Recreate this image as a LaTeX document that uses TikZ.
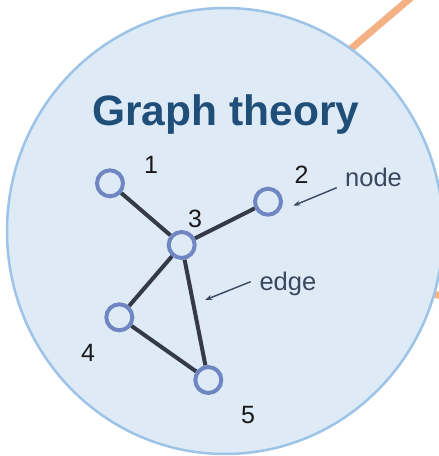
\documentclass[tikz,border=0pt]{standalone}
\usepackage{fontspec}
\setmainfont{Liberation Sans}
\usetikzlibrary{arrows.meta}
\definecolor{disk}{HTML}{DEEBF7}
\definecolor{rim}{HTML}{9DC3E6}
\definecolor{titleblue}{HTML}{1F4E79}
\definecolor{ring}{HTML}{6F86C2}
\definecolor{linkgray}{HTML}{343A46}
\definecolor{notegray}{HTML}{3A475C}
\definecolor{wire}{HTML}{F4B183}
\tikzset{
  vertex/.style={circle,draw=ring,line width=4pt,fill=disk,minimum size=26pt,inner sep=0pt},
  tie/.style={draw=linkgray,line width=4pt},
  numlabel/.style={inner sep=0pt,font=\fontsize{25}{30}\selectfont,text=black!90},
  note/.style={inner sep=0pt,anchor=base west,font=\fontsize{25.5}{30}\selectfont,text=notegray},
  pointer/.style={-{Stealth[length=7pt,width=5pt]},draw=notegray,line width=1.4pt},
  wireline/.style={draw=wire,line width=7pt}
}
\begin{document}
\begin{tikzpicture}[x=1pt,y=-1pt]
\useasboundingbox (0,0) rectangle (439,456);
% connectors that leave the picture
\coordinate (w1a) at (420,-10);
\coordinate (w1b) at (300,92);
\coordinate (w2a) at (400,286);
\coordinate (w2b) at (450,298);
\draw[wireline] (w1a) -- (w1b);
\draw[wireline] (w2a) -- (w2b);
% the disk
\fill[disk] (225,231) ellipse [x radius=218pt,y radius=223pt];
\draw[rim,line width=2.5pt] (225,231) ellipse [x radius=218pt,y radius=223pt];
\node[font=\bfseries\fontsize{42.5}{48}\selectfont,text=titleblue,anchor=base] (title) at (225.8,125) {Graph theory};
% graph
\node[vertex] (v1) at (110,183.3) {};
\node[vertex] (v2) at (268,201.7) {};
\node[vertex] (v3) at (181.7,245) {};
\node[vertex] (v4) at (119.3,317.3) {};
\node[vertex] (v5) at (208.3,380) {};
\node[numlabel] (l1) at (151,165) {1};
\node[numlabel] (l2) at (301.7,175) {2};
\node[numlabel] (l3) at (195,219) {3};
\node[numlabel] (l4) at (88,352.7) {4};
\node[numlabel] (l5) at (248,415) {5};
\draw[tie] (v1) -- (v3);
\draw[tie] (v2) -- (v3);
\draw[tie] (v3) -- (v4);
\draw[tie] (v3) -- (v5);
\draw[tie] (v4) -- (v5);
% notes
\node[note] (tnode) at (345,186.7) {node};
\node[note] (tedge) at (259.3,290) {edge};
\coordinate (tip2) at (293.3,205.7);
\coordinate (tip35) at (205,300);
\draw[pointer] ([shift={(-8.3,1)}]tnode.base west) -- (tip2);
\draw[pointer] ([shift={(-8.6,-8.3)}]tedge.base west) -- (tip35);
\end{tikzpicture}
\end{document}
